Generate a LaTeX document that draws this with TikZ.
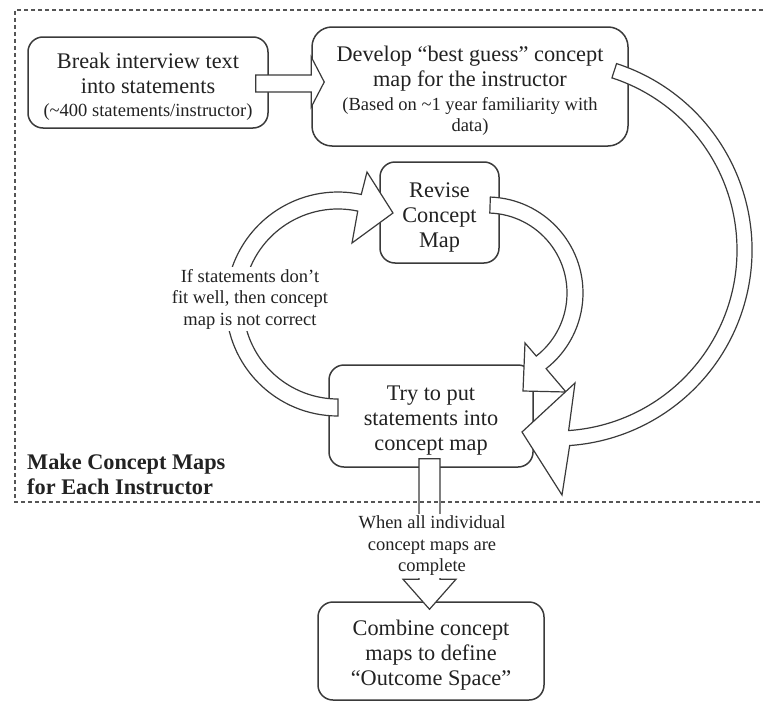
\documentclass[tikz,border=0pt]{standalone}
\usepackage{fontspec}
\setmainfont{Liberation Serif}
\usetikzlibrary{calc}
\definecolor{ink}{HTML}{222222}
\definecolor{edge}{HTML}{3a3a3a}
\definecolor{framegray}{HTML}{555555}
% extra height on the first line of a box, to centre the text block optically
\newcommand{\boxstrut}{\rule{0pt}{24pt}}

\begin{document}
\begin{tikzpicture}[x=1pt,y=-1pt,
  big/.style={font=\fontsize{22.3}{25}\selectfont},
  box/.style={draw=edge, line width=1.5pt, rounded corners=15pt, fill=white,
              align=center, inner sep=0pt, text=ink, big},
  blockarrow/.style={draw=edge, line width=1.2pt, fill=white, line join=miter},
  note/.style={fill=white, align=center, inner sep=2pt, text=ink,
               font=\fontsize{18.5}{21.5}\selectfont},
]
\useasboundingbox (0,0) rectangle (763,704);

% process boxes
\node[box, minimum width=240pt, minimum height=91pt] (brk) at (148,82.5)
  {\boxstrut Break interview text\\into statements\\[-2pt]{\fontsize{18.5}{21}\selectfont(\textasciitilde400 statements/instructor)}};
\node[box, rounded corners=20pt, minimum width=316pt, minimum height=119pt] (dev) at (470,86.5)
  {\boxstrut Develop “best guess” concept\\map for the instructor\\[-1pt]{\fontsize{18.5}{21}\selectfont(Based on \textasciitilde1 year familiarity with}\\[-4pt]{\fontsize{18.5}{21}\selectfont data)}};
\node[box, minimum width=119pt, minimum height=101pt] (rev) at (439.5,212.5)
  {\boxstrut Revise\\Concept\\Map};
\node[box, minimum width=204pt, minimum height=102pt] (try) at (431,416)
  {\boxstrut Try to put\\statements into\\concept map};
\node[box, minimum width=226pt, minimum height=98pt] (comb) at (431,651)
  {\boxstrut Combine concept\\maps to define\\“Outcome Space”};

% straight block arrow: break -> develop
\draw[blockarrow]
  ($(brk.east)+(-13,-7.5)$) -- ($(dev.west)+(0,-11.5)$) -- ($(dev.west)+(0,-29.5)$)
  -- ($(dev.west)+(13,-4.5)$) -- ($(dev.west)+(0,20.5)$) -- ($(dev.west)+(0,5.5)$)
  -- ($(brk.east)+(-13,9.5)$) -- cycle;

% curved block arrow: revise -> try
\coordinate (cB) at (487,293);
\draw[blockarrow]
  ($(cB)+(-88:80)$) -- ($(cB)+(-88:96)$) arc[start angle=-88, end angle=52, radius=96]
  -- (566,392) -- (523,391) -- (525,343)
  -- ($(cB)+(52:80)$) arc[start angle=52, end angle=-88, radius=80] -- cycle;

% curved block arrow: develop -> try
\coordinate (cA) at (556,250);
\draw[blockarrow]
  ($(cA)+(-72:181)$) -- ($(cA)+(-72:196)$) arc[start angle=-72, end angle=86, radius=196]
  -- (562,495) -- (522,432) -- (575,383)
  -- ($(cA)+(86:181)$) arc[start angle=86, end angle=-72, radius=181] -- cycle;

% curved block arrow: try -> revise (loop on the left)
\coordinate (cC) at (338,304);
\draw[blockarrow]
  ($(cC)+(90:95)$) -- ($(cC)+(90:112)$) arc[start angle=90, end angle=282, radius=112]
  -- (367,172) -- (393,213) -- (352,243)
  -- ($(cC)+(282:95)$) arc[start angle=282, end angle=90, radius=95] -- cycle;

% straight block arrow: try -> combine
\draw[blockarrow]
  ($(try.south)+(-12,-9)$) -- ($(comb.north)+(-12,-22)$) -- ($(comb.north)+(-28,-22)$)
  -- ($(comb.north)+(-1.5,8)$) -- ($(comb.north)+(25,-22)$) -- ($(comb.north)+(9,-22)$)
  -- ($(try.south)+(9,-9)$) -- cycle;

% labels on the arrows
\node[note] (misfit) at (250,299)
  {If statements don’t\\fit well, then concept\\map is not correct};
\node[note] (done) at (432,546)
  {When all individual\\concept maps are\\complete};

% frame around the per-instructor stage
\node[font=\bfseries\fontsize{22.3}{25}\selectfont, align=left, anchor=west,
      text=ink, inner sep=0pt] (title) at (27,474)
  {Make Concept Maps\\for Each Instructor};
\draw[framegray, line width=1.2pt, dash pattern=on 4pt off 3pt]
  (770,10) -- (15,10) -- (15,502) -- (770,502);
\end{tikzpicture}
\end{document}
